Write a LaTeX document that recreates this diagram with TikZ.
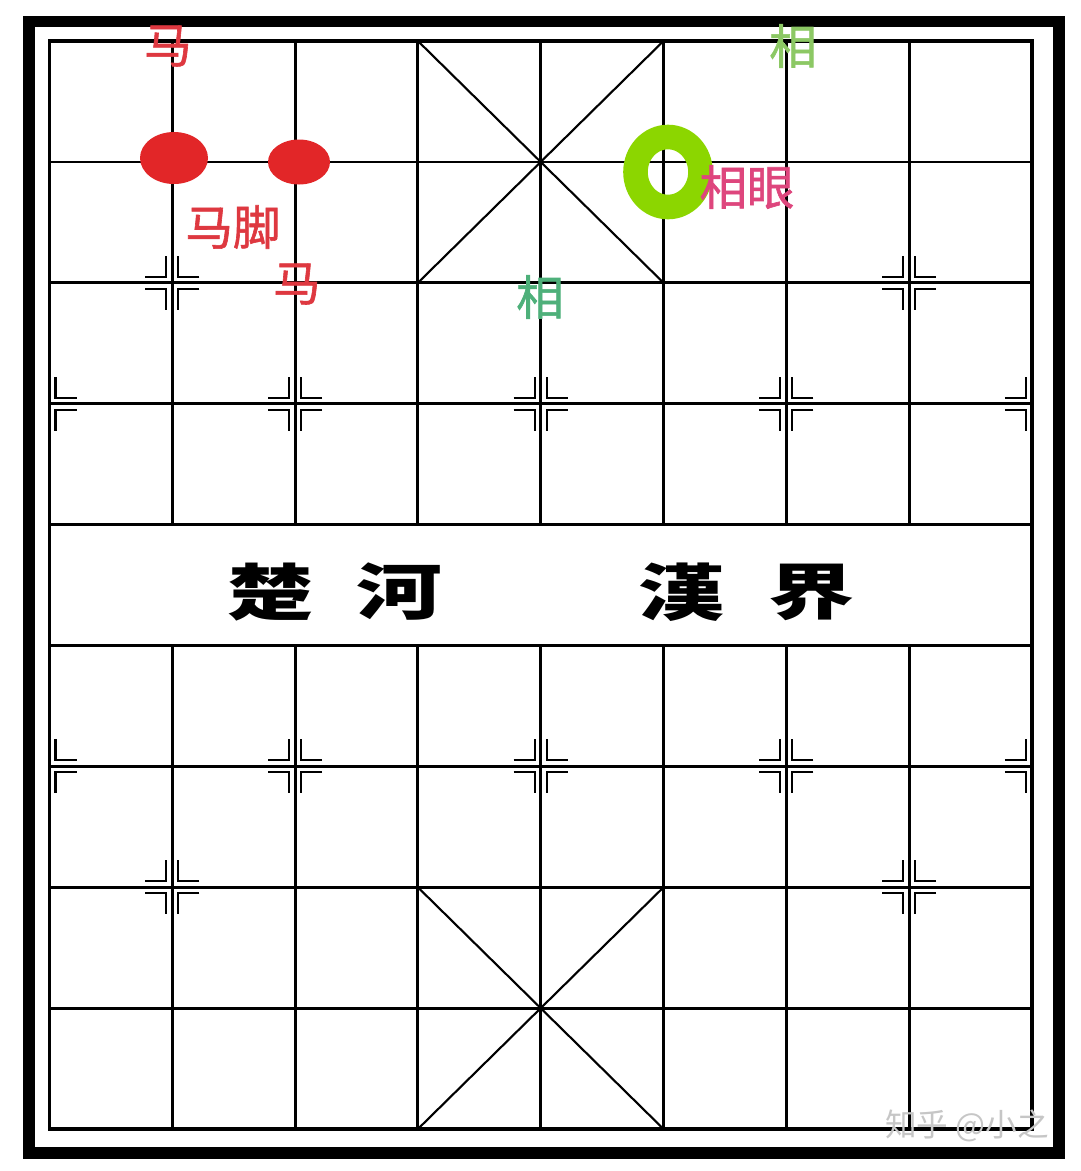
\documentclass[tikz,border=0pt]{standalone}
\usepackage{fontspec}
\newfontfamily\cjk{Noto Sans CJK SC}
\newfontfamily\cjkmed[FakeBold=1.3]{Noto Sans CJK SC}
\definecolor{horsered}{RGB}{226,38,40}
\definecolor{labelred}{RGB}{222,56,64}
\definecolor{xianggreen}{RGB}{140,200,100}
\definecolor{tealgreen}{RGB}{78,176,122}
\definecolor{eyepink}{RGB}{222,70,125}
\definecolor{ringgreen}{RGB}{140,214,0}
\tikzset{
  gridline/.style={black,line width=1.6pt},
  markline/.style={black,line width=1.2pt},
  tag/.style={inner sep=0pt,font=\cjkmed\fontsize{27}{27}\selectfont},
  river/.style={inner sep=0pt,font=\cjk\bfseries\fontsize{35}{35}\selectfont}
}
\begin{document}
\begin{tikzpicture}[x=0.02cm,y=-0.02cm]
	\useasboundingbox (0,0) rectangle (1080,1171);
	\fill [white] (0,0) rectangle (1080,1171);
	\draw [black,line width=6.8pt] (29,21.5) rectangle (1059,1153);
	\draw [black,line width=2pt] (49.5,41) rectangle (1032,1129);
	% ranks and files
	\foreach \r in {1,...,8}
		\draw [gridline] (49.5,{41+\r*120.9}) -- (1032,{41+\r*120.9});
	\foreach \c in {1,...,7} {
		\draw [gridline] ({49.5+\c*122.8},41) -- ({49.5+\c*122.8},{41+4*120.9});
		\draw [gridline] ({49.5+\c*122.8},{41+5*120.9}) -- ({49.5+\c*122.8},1129);
	}
	% palaces
	\draw [black,line width=1.2pt] ({49.5+3*122.8},41) -- ({49.5+5*122.8},{41+2*120.9});
	\draw [black,line width=1.2pt] ({49.5+5*122.8},41) -- ({49.5+3*122.8},{41+2*120.9});
	\draw [black,line width=1.2pt] ({49.5+3*122.8},{41+7*120.9}) -- ({49.5+5*122.8},1129);
	\draw [black,line width=1.2pt] ({49.5+5*122.8},{41+7*120.9}) -- ({49.5+3*122.8},1129);
	% position marks
	\foreach \c/\r/\sides in {1/2/{-1,1},7/2/{-1,1},2/3/{-1,1},4/3/{-1,1},6/3/{-1,1},
			2/6/{-1,1},4/6/{-1,1},6/6/{-1,1},1/7/{-1,1},7/7/{-1,1},
			0/3/{1},0/6/{1},8/3/{-1},8/6/{-1}}
		\foreach \sx in \sides
			\foreach \sy in {-1,1}
				\draw [markline] ({49.5+\c*122.8+\sx*27},{41+\r*120.9+\sy*6})
					-- ({49.5+\c*122.8+\sx*6},{41+\r*120.9+\sy*6})
					-- ({49.5+\c*122.8+\sx*6},{41+\r*120.9+\sy*27});
	% river
	\node [river] (chu) at (271,592) {\scalebox{1.4}[1]{楚}};
	\node [river] (he) at (400,592) {\scalebox{1.4}[1]{河}};
	\node [river] (han) at (682,592) {\scalebox{1.4}[1]{漢}};
	\node [river] (jie) at (812,592) {\scalebox{1.4}[1]{界}};
	% horse and its leg
	\fill [horsered] (174,158) ellipse [x radius=34,y radius=26];
	\fill [horsered] (299,162) ellipse [x radius=31,y radius=22.5];
	\node [tag,text=labelred] (horsetop) at (168,46) {马};
	\node [tag,text=labelred] (horseleg) at (233,227) {马脚};
	\node [tag,text=labelred] (horsemid) at (297,284) {马};
	% elephant and its eye
	\draw [ringgreen,line width=14pt] (668,172) ellipse [x radius=32.5,y radius=35];
	\node [tag,text=xianggreen] (xiangtop) at (793,46) {相};
	\node [tag,text=tealgreen] (xiangmid) at (540,297) {相};
	\node [tag,text=eyepink] (xiangeye) at (747,187) {相眼};
	\node [inner sep=0pt,text=gray!45,font=\cjk\fontsize{18}{18}\selectfont] (mark) at (967,1126) {知乎 @小之};
\end{tikzpicture}
\end{document}
